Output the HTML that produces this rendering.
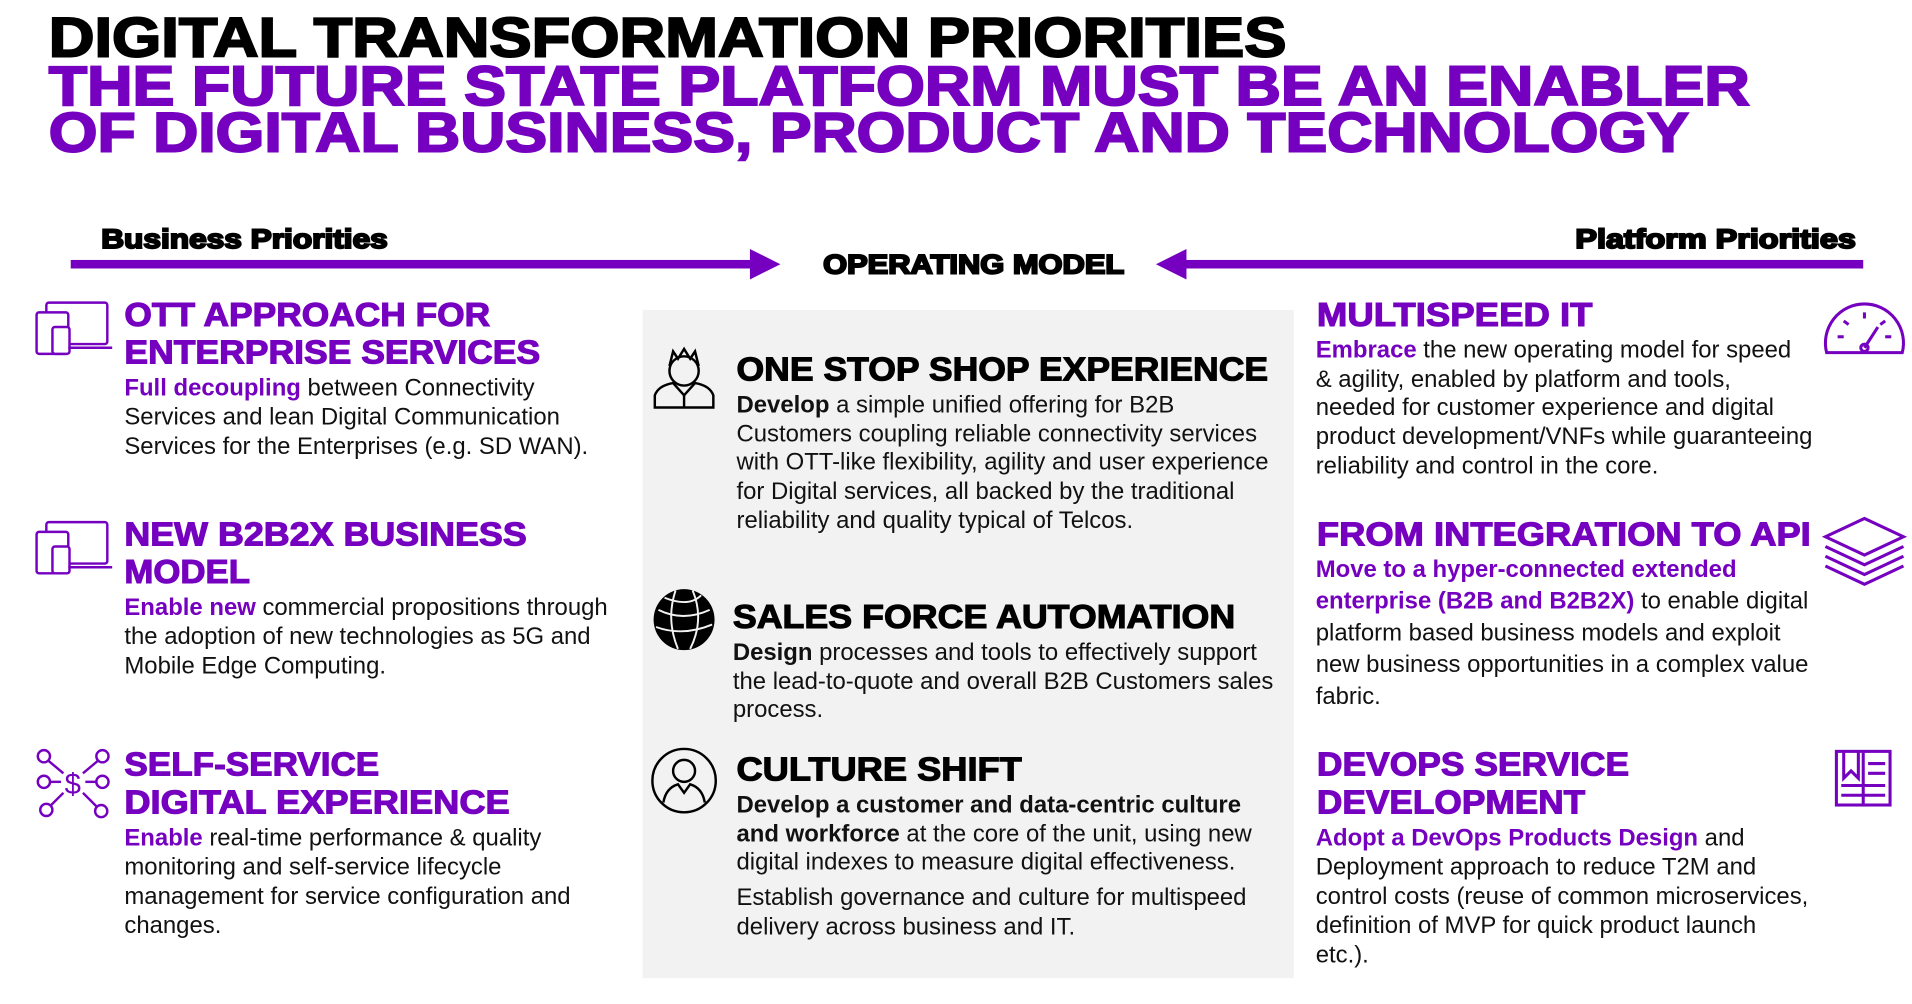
<!DOCTYPE html>
<html><head><meta charset="utf-8"><style>
html,body{margin:0;padding:0;background:#fff;}
svg{display:block;}
.h{font-family:"Liberation Sans",sans-serif;font-weight:bold;stroke-width:1.6;}
.b{font-family:"Liberation Sans",sans-serif;font-size:19.6px;fill:#111;}
.p{fill:#7500c0;}
.h.p{stroke:#7500c0;}
.hd{font-family:"Liberation Sans",sans-serif;font-weight:bold;font-size:27px;fill:#7500c0;stroke:#7500c0;stroke-width:0.9;}
.hk{font-family:"Liberation Sans",sans-serif;font-weight:bold;font-size:27px;fill:#000;stroke:#000;stroke-width:0.9;}
.bb{font-weight:bold;}
</style></head><body>
<svg width="1912" height="1004" viewBox="0 0 1568 823" xmlns="http://www.w3.org/2000/svg">
<rect width="1568" height="823" fill="#fff"/>
<text class="h" x="40" y="46" font-size="46" stroke="#000" textLength="1015" lengthAdjust="spacingAndGlyphs">DIGITAL TRANSFORMATION PRIORITIES</text>
<text class="h p" x="40" y="86" font-size="46" textLength="1395" lengthAdjust="spacingAndGlyphs">THE FUTURE STATE PLATFORM MUST BE AN ENABLER</text>
<text class="h p" x="40" y="124" font-size="46" textLength="1345" lengthAdjust="spacingAndGlyphs">OF DIGITAL BUSINESS, PRODUCT AND TECHNOLOGY</text>

<text class="h" x="83" y="203" font-size="22" stroke="#000" stroke-width="0.5" textLength="235" lengthAdjust="spacingAndGlyphs">Business Priorities</text>
<text class="h" x="1292" y="203" font-size="22" stroke="#000" stroke-width="0.5" textLength="230" lengthAdjust="spacingAndGlyphs">Platform Priorities</text>
<text class="h" x="675" y="224" font-size="22" stroke="#000" stroke-width="0.5" textLength="247" lengthAdjust="spacingAndGlyphs">OPERATING MODEL</text>
<rect x="58" y="213" width="562" height="7" fill="#7500c0"/>
<polygon points="615,204 640,216.5 615,229" fill="#7500c0"/>
<rect x="968" y="213" width="560" height="7" fill="#7500c0"/>
<polygon points="973,204 948,216.5 973,229" fill="#7500c0"/>

<rect x="527" y="254" width="534" height="548" fill="#f2f2f2"/>

<g fill="none" stroke="#7500c0" stroke-width="2">
<rect x="38" y="248" width="50" height="34" rx="2"/><rect x="30" y="256" width="26" height="34" rx="2" fill="#fff"/><rect x="43" y="268" width="14" height="22" rx="2" fill="#fff"/><line x1="56" y1="285" x2="92" y2="285"/>
<rect x="38" y="428" width="50" height="34" rx="2"/><rect x="30" y="436" width="26" height="34" rx="2" fill="#fff"/><rect x="43" y="448" width="14" height="22" rx="2" fill="#fff"/><line x1="56" y1="465" x2="92" y2="465"/>
<circle cx="36" cy="620" r="5"/><circle cx="84" cy="620" r="5"/><circle cx="36" cy="641" r="5"/><circle cx="84" cy="641" r="5"/><circle cx="38" cy="664" r="5"/><circle cx="83" cy="665" r="5"/>
<line x1="40" y1="624" x2="52" y2="634"/><line x1="80" y1="624" x2="68" y2="634"/><line x1="41" y1="641" x2="50" y2="641"/><line x1="70" y1="641" x2="79" y2="641"/><line x1="42" y1="660" x2="52" y2="650"/><line x1="79" y1="661" x2="68" y2="650"/>
</g>
<text x="53" y="651" font-family="Liberation Sans,sans-serif" font-size="24" fill="#7500c0">$</text>

<g fill="none" stroke="#7500c0" stroke-width="2.5">
<path d="M1498 289 A32 32 0 1 1 1560 289 Z"/><line x1="1529" y1="285" x2="1540" y2="268"/><circle cx="1529" cy="285" r="3"/>
<line x1="1507" y1="276" x2="1512" y2="276"/><line x1="1512" y1="263" x2="1516" y2="266"/><line x1="1529" y1="256" x2="1529" y2="261"/><line x1="1546" y1="263" x2="1542" y2="266"/><line x1="1551" y1="276" x2="1546" y2="276"/>
<polygon points="1497,440 1529,425 1561,440 1529,455"/>
<polyline points="1497,448 1529,463 1561,448"/><polyline points="1497,456 1529,471 1561,456"/><polyline points="1497,464 1529,479 1561,464"/>
<rect x="1506" y="616" width="44" height="44"/><line x1="1528" y1="616" x2="1528" y2="660"/><polyline points="1512,616 1512,638 1518,632 1524,638 1524,616"/>
<line x1="1532" y1="626" x2="1546" y2="626"/><line x1="1532" y1="634" x2="1546" y2="634"/><line x1="1510" y1="644" x2="1546" y2="644"/><line x1="1510" y1="652" x2="1546" y2="652"/>
</g>

<g fill="none" stroke="#000" stroke-width="2">
<circle cx="561" cy="304" r="12"/><path d="M549 300 L552 288 L556 294 L561 286 L566 294 L570 288 L573 300"/><path d="M537 334 L537 324 Q540 316 552 314 L561 324 L570 314 Q582 316 585 324 L585 334 Z"/><line x1="561" y1="324" x2="561" y2="334"/>
<circle cx="561" cy="640" r="26"/><circle cx="561" cy="632" r="9"/><path d="M544 658 Q546 646 556 643 L561 650 L566 643 Q576 646 578 658"/>
</g>
<circle cx="561" cy="508" r="25" fill="#000"/>
<g fill="none" stroke="#f2f2f2" stroke-width="1.6"><path d="M540 500 Q560 510 582 500"/><path d="M538 514 Q560 522 584 512"/><path d="M554 484 Q546 508 556 532"/><path d="M568 484 Q578 508 566 532"/><path d="M545 490 Q565 498 575 488"/></g>

<text class="hd" x="102" y="267" textLength="300" lengthAdjust="spacingAndGlyphs">OTT APPROACH FOR</text>
<text class="hd" x="102" y="298" textLength="341" lengthAdjust="spacingAndGlyphs">ENTERPRISE SERVICES</text>
<text class="b" x="102" y="324"><tspan class="p bb">Full decoupling</tspan> between Connectivity</text>
<text class="b" x="102" y="348">Services and lean Digital Communication</text>
<text class="b" x="102" y="372">Services for the Enterprises (e.g. SD WAN).</text>

<text class="hd" x="102" y="447" textLength="330" lengthAdjust="spacingAndGlyphs">NEW B2B2X BUSINESS</text>
<text class="hd" x="102" y="478" textLength="103" lengthAdjust="spacingAndGlyphs">MODEL</text>
<text class="b" x="102" y="504"><tspan class="p bb">Enable new</tspan> commercial propositions through</text>
<text class="b" x="102" y="528">the adoption of new technologies as 5G and</text>
<text class="b" x="102" y="552">Mobile Edge Computing.</text>

<text class="hd" x="102" y="636" textLength="209" lengthAdjust="spacingAndGlyphs">SELF-SERVICE</text>
<text class="hd" x="102" y="667" textLength="316" lengthAdjust="spacingAndGlyphs">DIGITAL EXPERIENCE</text>
<text class="b" x="102" y="693"><tspan class="p bb">Enable</tspan> real-time performance &amp; quality</text>
<text class="b" x="102" y="717">monitoring and self-service lifecycle</text>
<text class="b" x="102" y="741">management for service configuration and</text>
<text class="b" x="102" y="765">changes.</text>

<text class="hk" x="604" y="312" textLength="436" lengthAdjust="spacingAndGlyphs">ONE STOP SHOP EXPERIENCE</text>
<text class="b" x="604" y="338"><tspan class="bb">Develop</tspan> a simple unified offering for B2B</text>
<text class="b" x="604" y="362">Customers coupling reliable connectivity services</text>
<text class="b" x="604" y="385">with OTT-like flexibility, agility and user experience</text>
<text class="b" x="604" y="409">for Digital services, all backed by the traditional</text>
<text class="b" x="604" y="433">reliability and quality typical of Telcos.</text>

<text class="hk" x="601" y="515" textLength="412" lengthAdjust="spacingAndGlyphs">SALES FORCE AUTOMATION</text>
<text class="b" x="601" y="541"><tspan class="bb">Design</tspan> processes and tools to effectively support</text>
<text class="b" x="601" y="565">the lead-to-quote and overall B2B Customers sales</text>
<text class="b" x="601" y="588">process.</text>

<text class="hk" x="604" y="640" textLength="234" lengthAdjust="spacingAndGlyphs">CULTURE SHIFT</text>
<text class="b bb" x="604" y="666">Develop a customer and data-centric culture</text>
<text class="b" x="604" y="690"><tspan class="bb">and workforce</tspan> at the core of the unit, using new</text>
<text class="b" x="604" y="713">digital indexes to measure digital effectiveness.</text>
<text class="b" x="604" y="742">Establish governance and culture for multispeed</text>
<text class="b" x="604" y="766">delivery across business and IT.</text>

<text class="hd" x="1080" y="267" textLength="226" lengthAdjust="spacingAndGlyphs">MULTISPEED IT</text>
<text class="b" x="1079" y="293"><tspan class="p bb">Embrace</tspan> the new operating model for speed</text>
<text class="b" x="1079" y="317">&amp; agility, enabled by platform and tools,</text>
<text class="b" x="1079" y="340">needed for customer experience and digital</text>
<text class="b" x="1079" y="364">product development/VNFs while guaranteeing</text>
<text class="b" x="1079" y="388">reliability and control in the core.</text>

<text class="hd" x="1080" y="447" textLength="405" lengthAdjust="spacingAndGlyphs">FROM INTEGRATION TO API</text>
<text class="b p bb" x="1079" y="473">Move to a hyper-connected extended</text>
<text class="b" x="1079" y="499"><tspan class="p bb">enterprise (B2B and B2B2X)</tspan> to enable digital</text>
<text class="b" x="1079" y="525">platform based business models and exploit</text>
<text class="b" x="1079" y="551">new business opportunities in a complex value</text>
<text class="b" x="1079" y="577">fabric.</text>

<text class="hd" x="1080" y="636" textLength="256" lengthAdjust="spacingAndGlyphs">DEVOPS SERVICE</text>
<text class="hd" x="1080" y="667" textLength="220" lengthAdjust="spacingAndGlyphs">DEVELOPMENT</text>
<text class="b" x="1079" y="693"><tspan class="p bb">Adopt a DevOps Products Design</tspan> and</text>
<text class="b" x="1079" y="717">Deployment approach to reduce T2M and</text>
<text class="b" x="1079" y="741">control costs (reuse of common microservices,</text>
<text class="b" x="1079" y="765">definition of MVP for quick product launch</text>
<text class="b" x="1079" y="789">etc.).</text>
</svg>
</body></html>
